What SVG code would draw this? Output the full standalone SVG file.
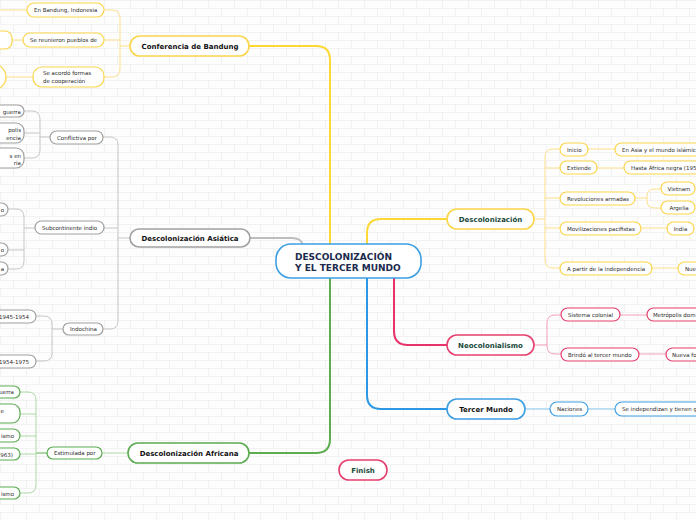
<svg xmlns="http://www.w3.org/2000/svg" width="696" height="520" viewBox="0 0 696 520">
<defs>
<pattern id="bricks" width="26" height="16" patternUnits="userSpaceOnUse">
<rect width="26" height="16" fill="#fdfdfd"/>
<path d="M0,0.5 H26 M0,8.5 H26 M0.5,0 V8 M13.5,8 V16" stroke="#f2f2f2" stroke-width="1" fill="none"/>
</pattern>
</defs>
<style>
text{font-family:"DejaVu Sans","Verdana",sans-serif;}
.c{font-size:5.5px;fill:#2a2a2a;}
.m{font-size:7px;font-weight:bold;fill:#111;text-anchor:middle;}
.g{fill:#1a4a3a;}
.ce{font-size:9px;font-weight:bold;fill:#1b2a4e;}
.e{text-anchor:end;}
.mid{text-anchor:middle;}
.n{fill:#fff;stroke-width:1.2;}
.mn{fill:#fff;stroke-width:1.6;}
.y{stroke:#fbd54a;}
.gr{stroke:#a0a0a0;}
.gn{stroke:#5bab52;}
.p{stroke:#e6406e;}
.b{stroke:#3d9fe2;}
.l{fill:none;stroke-width:1;}
.L{fill:none;stroke-width:2;}
.ly{stroke:#fde08a;}
.lgr{stroke:#c6c6c6;}
.lgn{stroke:#acd8a6;}
.lp{stroke:#f4a0bb;}
.lb{stroke:#8cc8f0;}
</style>
<rect width="696" height="520" fill="url(#bricks)"/>

<g id="connectors">
<path class="L" stroke="#fdd835" d="M330,244 V60 Q330,46 316,46 H249"/>
<path class="L" stroke="#bdbdbd" d="M250,238 H292 Q301,238 303,245"/>
<path class="L" stroke="#5cae4f" d="M330,278 V439 Q330,453 316,453 H249"/>
<path class="L" stroke="#fdd835" d="M367,244 V233 Q367,219 381,219 H447"/>
<path class="L" stroke="#e8336a" d="M394,278 V331 Q394,345 408,345 H447"/>
<path class="L" stroke="#2b98e6" d="M367,278 V395 Q367,409 381,409 H447"/>

<path class="l ly" d="M130,46 H120 M104,10 H112 Q120,10 120,18 V69 Q120,77 112,77 H104 M104,40 H120"/>
<path class="l ly" d="M27,10 H0 M23,40 H12 M33,77 H6"/>

<path class="l lgr" d="M130,238 H118 M103,137 H110 Q118,137 118,145 V321 Q118,329 110,329 H103 M104,228 H118"/>
<path class="l lgr" d="M50,137 H40 M24,111 H32 Q40,111 40,119 V150 Q40,158 32,158 H24 M24,133 H40"/>
<path class="l lgr" d="M35,228 H24 M8,209 H16 Q24,209 24,217 V261 Q24,269 16,269 H8 M8,250 H24"/>
<path class="l lgr" d="M63,329 H52 M36,316 H44 Q52,316 52,324 V353 Q52,361 44,361 H36"/>

<path class="l lgn" d="M102,453 H128"/>
<path class="l" stroke="#5cae4f" d="M47,453 H36"/>
<path class="l lgn" d="M20,392 H28 Q36,392 36,400 V485 Q36,493 28,493 H20 M20,414 H36 M20,436 H36 M20,454 H36"/>

<path class="l ly" d="M534,219 H545 M560,149 H553 Q545,149 545,157 V260 Q545,268 553,268 H560 M545,168 H560 M545,198 H560 M545,228 H560"/>
<path class="l ly" d="M588,149 H615 M597,168 H624 M635,198 H647 M661,189 H655 Q647,189 647,196 V201 Q647,208 655,208 H661 M641,228 H667 M652,268 H678"/>

<path class="l lp" d="M534,345 H547 M561,315 H555 Q547,315 547,323 V346 Q547,354 555,354 H561 M620,315 H647 M639,354 H666"/>

<path class="l lb" d="M525,409 H550 M588,409 H615"/>
</g>

<g id="central">
<rect class="mn" stroke="#3d9fe2" x="276" y="244" width="145" height="34" rx="15"/>
<text class="ce" x="295" y="259.5">DESCOLONIZACIÓN</text>
<text class="ce" x="295" y="270.5">Y EL TERCER MUNDO</text>
</g>

<g id="bandung">
<rect class="mn y" x="130" y="36" width="119" height="20" rx="10"/>
<text class="m" x="190" y="49">Conferencia de Bandung</text>
</g>
<g id="bandung-1">
<rect class="n y" x="27" y="3" width="77" height="14" rx="7"/>
<text class="c" x="34" y="12">En Bandung, Indonesia</text>
</g>
<g id="bandung-2">
<rect class="n y" x="23" y="33" width="81" height="14" rx="7"/>
<text class="c" x="30" y="42">Se reunieron pueblos de</text>
</g>
<g id="bandung-3">
<rect class="n y" x="33" y="67" width="71" height="20" rx="9"/>
<text class="c" x="43" y="75">Se acordó formas</text>
<text class="c" x="43" y="82.5">de cooperación</text>
</g>
<g id="bandung-2a">
<rect class="n y" x="-60" y="31" width="72" height="18" rx="7"/>
</g>
<g id="bandung-3a">
<rect class="n y" x="-40" y="64" width="46" height="26" rx="13"/>
</g>

<g id="asiatica">
<rect class="mn gr" x="130" y="229" width="120" height="18" rx="9"/>
<text class="m" x="190" y="241">Descolonización Asiática</text>
</g>
<g id="conflictiva">
<rect class="n gr" x="50" y="131" width="53" height="13" rx="6.5"/>
<text class="c" x="57" y="139.5">Conflictiva por</text>
</g>
<g id="conf-1">
<rect class="n gr" x="-40" y="105" width="64" height="12" rx="6"/>
<text class="c e" x="21" y="113.5">guerra</text>
</g>
<g id="conf-2">
<rect class="n gr" x="-40" y="123" width="64" height="20" rx="8"/>
<text class="c e" x="21" y="132">polis</text>
<text class="c e" x="21" y="139.5">encia</text>
</g>
<g id="conf-3">
<rect class="n gr" x="-40" y="148" width="64" height="20" rx="8"/>
<text class="c e" x="21" y="157.5">s en</text>
<text class="c e" x="21" y="165">ria</text>
</g>
<g id="subcontinente">
<rect class="n gr" x="35" y="221" width="69" height="13" rx="6.5"/>
<text class="c" x="42" y="229.5">Subcontinente indio</text>
</g>
<g id="sub-1">
<rect class="n gr" x="-50" y="203" width="58" height="13" rx="6.5"/>
<text class="c e" x="4" y="211.5">o</text>
</g>
<g id="sub-2">
<rect class="n gr" x="-50" y="243" width="58" height="13" rx="6.5"/>
<text class="c e" x="4" y="251.5">o</text>
</g>
<g id="sub-3">
<rect class="n gr" x="-50" y="262" width="58" height="13" rx="6.5"/>
<text class="c e" x="4" y="270.5">a</text>
</g>
<g id="indochina">
<rect class="n gr" x="63" y="323" width="40" height="12" rx="6"/>
<text class="c" x="70" y="331">Indochina</text>
</g>
<g id="indo-1">
<rect class="n gr" x="-30" y="310" width="66" height="13" rx="6.5"/>
<text class="c e" x="29" y="318.5">1945-1954</text>
</g>
<g id="indo-2">
<rect class="n gr" x="-30" y="355" width="66" height="13" rx="6.5"/>
<text class="c e" x="29" y="363.5">1954-1975</text>
</g>

<g id="africana">
<rect class="mn gn" x="128" y="443" width="121" height="20" rx="10"/>
<text class="m" x="189" y="456">Descolonización Africana</text>
</g>
<g id="estimulada">
<rect class="n gn" x="47" y="447" width="55" height="12" rx="6"/>
<text class="c" x="54" y="455">Estimulada por</text>
</g>
<g id="est-1">
<rect class="n gn" x="-40" y="386" width="60" height="12" rx="6"/>
<text class="c e" x="14" y="394">uerra</text>
</g>
<g id="est-2">
<rect class="n gn" x="-40" y="404" width="60" height="19" rx="8"/>
<text class="c e" x="4" y="413">e</text>
</g>
<g id="est-3">
<rect class="n gn" x="-40" y="429" width="60" height="13" rx="6.5"/>
<text class="c e" x="14" y="438">ismo</text>
</g>
<g id="est-4">
<rect class="n gn" x="-40" y="448" width="60" height="12" rx="6"/>
<text class="c e" x="13" y="456.5">963)</text>
</g>
<g id="est-5">
<rect class="n gn" x="-40" y="487" width="60" height="12" rx="6"/>
<text class="c e" x="14" y="495.5">ismo</text>
</g>

<g id="descolonizacion">
<rect class="mn y" x="447" y="209" width="87" height="20" rx="10"/>
<text class="m g" x="490.5" y="222">Descolonización</text>
</g>
<g id="inicio">
<rect class="n y" x="560" y="143" width="28" height="13" rx="6.5"/>
<text class="c" x="567" y="151.5">Inicio</text>
</g>
<g id="asia">
<rect class="n y" x="615" y="143" width="100" height="13" rx="6.5"/>
<text class="c" x="622" y="151.5">En Asia y el mundo islámic</text>
</g>
<g id="extiende">
<rect class="n y" x="560" y="161" width="37" height="13" rx="6.5"/>
<text class="c" x="567" y="169.5">Extiende</text>
</g>
<g id="africa-negra">
<rect class="n y" x="624" y="161" width="90" height="13" rx="6.5"/>
<text class="c" x="631" y="169.5">Hasta África negra (195</text>
</g>
<g id="revoluciones">
<rect class="n y" x="560" y="192" width="75" height="13" rx="6.5"/>
<text class="c" x="567" y="200.5">Revoluciones armadas</text>
</g>
<g id="vietnam">
<rect class="n y" x="661" y="182" width="34" height="13" rx="6.5"/>
<text class="c mid" x="679" y="190.5">Vietnam</text>
</g>
<g id="argelia">
<rect class="n y" x="661" y="201" width="34" height="13" rx="6.5"/>
<text class="c mid" x="679" y="209.5">Argelia</text>
</g>
<g id="movilizaciones">
<rect class="n y" x="560" y="222" width="81" height="13" rx="6.5"/>
<text class="c" x="567" y="230.5">Movilizaciones pacifistas</text>
</g>
<g id="india">
<rect class="n y" x="667" y="222" width="27" height="13" rx="6.5"/>
<text class="c mid" x="680.5" y="230.5">India</text>
</g>
<g id="apartir">
<rect class="n y" x="560" y="262" width="92" height="13" rx="6.5"/>
<text class="c" x="567" y="270.5">A partir de la independencia</text>
</g>
<g id="nue">
<rect class="n y" x="678" y="262" width="40" height="13" rx="6.5"/>
<text class="c" x="685" y="270.5">Nue</text>
</g>

<g id="neocolonialismo">
<rect class="mn p" x="447" y="335" width="87" height="20" rx="10"/>
<text class="m g" x="490.5" y="348">Neocolonialismo</text>
</g>
<g id="sistema">
<rect class="n p" x="561" y="308" width="59" height="13" rx="6.5"/>
<text class="c" x="568" y="316.5">Sistema colonial</text>
</g>
<g id="metropolis">
<rect class="n p" x="647" y="308" width="60" height="13" rx="6.5"/>
<text class="c" x="653" y="316.5">Metrópolis dom</text>
</g>
<g id="brindo">
<rect class="n p" x="561" y="348" width="78" height="13" rx="6.5"/>
<text class="c" x="568" y="356.5">Brindó al tercer mundo</text>
</g>
<g id="nueva">
<rect class="n p" x="666" y="348" width="40" height="13" rx="6.5"/>
<text class="c" x="672" y="356.5">Nueva fo</text>
</g>

<g id="tercer">
<rect class="mn b" x="447" y="399" width="78" height="20" rx="10"/>
<text class="m" x="486" y="412">Tercer Mundo</text>
</g>
<g id="naciones">
<rect class="n b" x="550" y="402" width="38" height="14" rx="7"/>
<text class="c" x="557" y="411">Naciones</text>
</g>
<g id="independizan">
<rect class="n b" x="615" y="402" width="100" height="14" rx="7"/>
<text class="c" x="622" y="411">Se independizan y tienen g</text>
</g>

<g id="finish">
<rect class="mn p" x="339" y="460" width="48" height="20" rx="10"/>
<text class="m g" x="363" y="473">Finish</text>
</g>
</svg>
